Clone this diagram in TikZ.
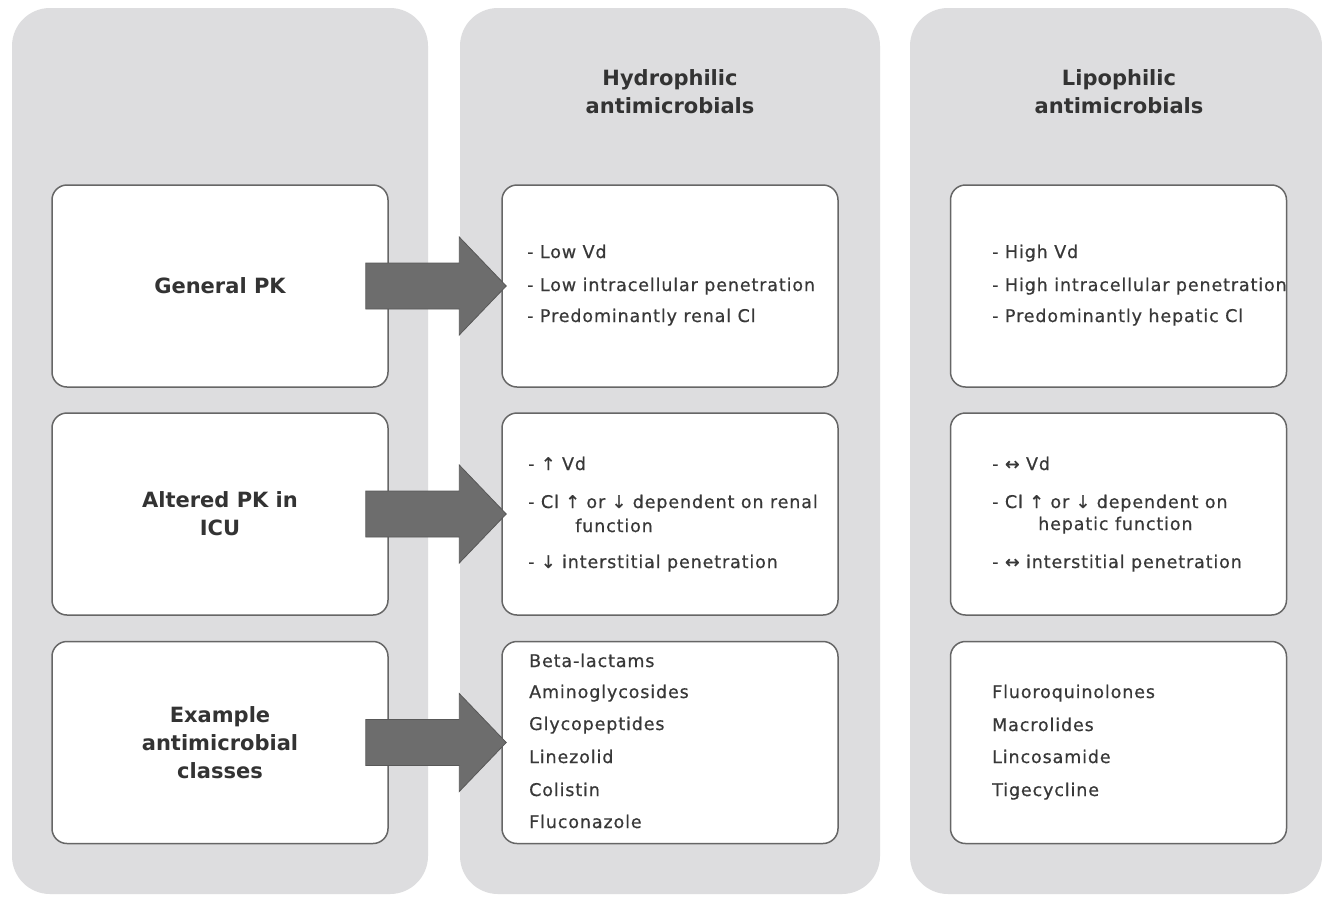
\documentclass[tikz,border=0pt]{standalone}
\usepackage{fontspec}
\setmainfont{DejaVu Sans}
\newfontfamily\bodyfont[LetterSpace=5,FakeBold=0.6]{DejaVu Sans}
\usetikzlibrary{calc}
\definecolor{panelgrey}{HTML}{DDDDDF}
\definecolor{boxline}{HTML}{666666}
\definecolor{labeltext}{HTML}{333333}
\definecolor{bodytext}{HTML}{383838}
\definecolor{arrowgrey}{HTML}{6D6D6D}
\definecolor{arrowline}{HTML}{585858}
\newcommand\bigarrow[2]{%
  \draw[bigarrow] ($(#1.east)+(-23,-23)$) -- ($(#2.west)+(-42,-23)$) -- ($(#2.west)+(-42,-49)$)
    -- ($(#2.west)+(5,0)$) -- ($(#2.west)+(-42,49)$) -- ($(#2.west)+(-42,23)$)
    -- ($(#1.east)+(-23,23)$) -- cycle;}
\begin{document}
\begin{tikzpicture}[x=1pt,y=-1pt,
  panel/.style={fill=panelgrey, rounded corners=38pt, minimum height=886pt, inner sep=0pt, draw=none},
  cardbox/.style={draw=boxline, line width=1.5pt, fill=white, rounded corners=15pt, minimum width=336pt, minimum height=202pt, inner sep=0pt},
  sidelabel/.style={font=\fontsize{21}{28}\selectfont\bfseries, text=labeltext, align=center},
  coltitle/.style={font=\fontsize{21}{28}\selectfont\bfseries, text=labeltext, align=center},
  listtext/.style={font=\bodyfont\fontsize{17.5}{24}\selectfont, text=bodytext, anchor=base west, inner sep=0pt},
  bigarrow/.style={fill=arrowgrey, draw=arrowline, line width=0.8pt, line join=miter}]
\useasboundingbox (0,0) rectangle (1322,897);
\fill[white] (0,0) rectangle (1322,897);
% panels
\node[panel, minimum width=416pt] (P1) at (220,451) {};
\node[panel, minimum width=420pt] (P2) at (670,451) {};
\node[panel, minimum width=412pt] (P3) at (1116,451) {};
% titles
\node[coltitle] (T2) at (670,92) {Hydrophilic\\antimicrobials};
\node[coltitle] (T3) at (1119,92) {Lipophilic\\antimicrobials};
% boxes
\node[cardbox] (L1) at (220,286) {};
\node[cardbox] (L2) at (220,514) {};
\node[cardbox] (L3) at (220,742.5) {};
\node[cardbox] (M1) at (670,286) {};
\node[cardbox] (M2) at (670,514) {};
\node[cardbox] (M3) at (670,742.5) {};
\node[cardbox] (R1) at (1118.5,286) {};
\node[cardbox] (R2) at (1118.5,514) {};
\node[cardbox] (R3) at (1118.5,742.5) {};
% left labels
\node[sidelabel] (G) at (L1) {General PK};
\node[sidelabel] (A) at (L2) {Altered PK in\\ICU};
\node[sidelabel] (E) at (L3) {Example\\antimicrobial\\classes};
% middle texts
\node[listtext] (m1a) at (527,258) {- Low Vd};
\node[listtext] (m1b) at (527,291) {- Low intracellular penetration};
\node[listtext] (m1c) at (527,322) {- Predominantly renal Cl};
\node[listtext] (m2a) at (528,470) {- ↑ Vd};
\node[listtext] (m2b) at (528,508) {- Cl ↑ or ↓ dependent on renal};
\node[listtext] (m2c) at (575,532) {function};
\node[listtext] (m2d) at (528,568) {- ↓ interstitial penetration};
\node[listtext] (m3a) at (529,667) {Beta-lactams};
\node[listtext] (m3b) at (529,698) {Aminoglycosides};
\node[listtext] (m3c) at (529,730) {Glycopeptides};
\node[listtext] (m3d) at (529,763) {Linezolid};
\node[listtext] (m3e) at (529,796) {Colistin};
\node[listtext] (m3f) at (529,828) {Fluconazole};
% right texts
\node[listtext] (r1a) at (992,258) {- High Vd};
\node[listtext] (r1b) at (992,291) {- High intracellular penetration};
\node[listtext] (r1c) at (992,322) {- Predominantly hepatic Cl};
\node[listtext] (r2a) at (992,470) {- ↔ Vd};
\node[listtext] (r2b) at (992,508) {- Cl ↑ or ↓ dependent on};
\node[listtext] (r2c) at (1038,530) {hepatic function};
\node[listtext] (r2d) at (992,568) {- ↔ interstitial penetration};
\node[listtext] (r3a) at (992,698) {Fluoroquinolones};
\node[listtext] (r3b) at (992,731) {Macrolides};
\node[listtext] (r3c) at (992,763) {Lincosamide};
\node[listtext] (r3d) at (992,796) {Tigecycline};
% arrows
\bigarrow{L1}{M1}
\bigarrow{L2}{M2}
\bigarrow{L3}{M3}
\end{tikzpicture}
\end{document}
